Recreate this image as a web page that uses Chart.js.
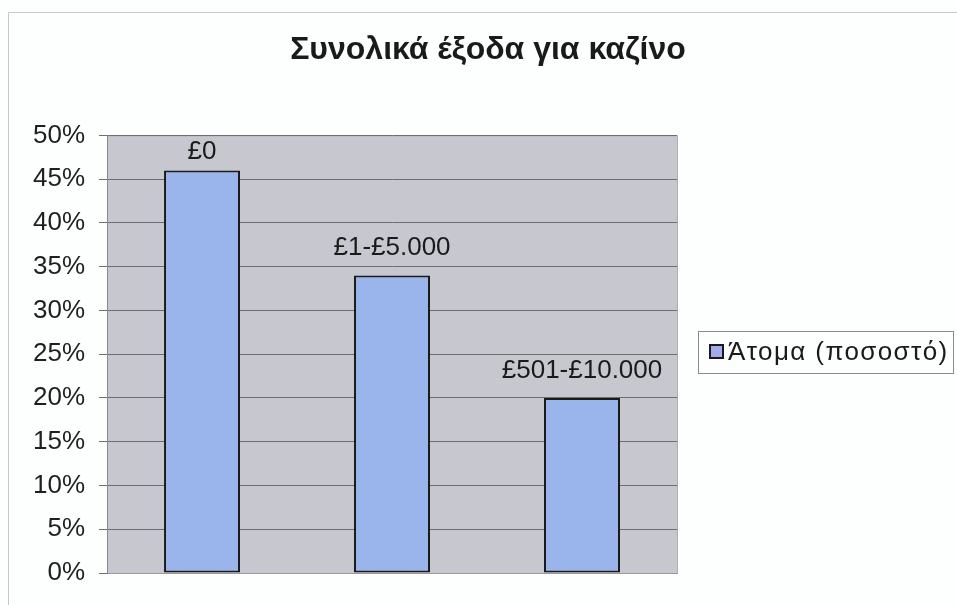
<!DOCTYPE html>
<html>
<head>
<meta charset="utf-8">
<script src="https://cdn.jsdelivr.net/npm/chart.js@4.4.0/dist/chart.umd.min.js"></script>
<style>
  html, body { margin: 0; padding: 0; background: #fdfefe; }
  #wrap { width: 957px; height: 605px; position: relative; }
</style>
</head>
<body>
<div id="wrap"><canvas id="myChart" width="957" height="605"></canvas></div>
<script>
// data
const categories = ['£0', '£1-£5.000', '£501-£10.000'];
const values = [46, 34, 20];
const seriesName = 'Άτομα (ποσοστό)';
const yTicks = [0, 5, 10, 15, 20, 25, 30, 35, 40, 45, 50];

const FONT = "'Liberation Sans', Arial, sans-serif";
const LEGEND_W = 280;   // room kept on the right for the legend
const ctx = document.getElementById('myChart');

// grey plot area + frame, like the old excel look
const plotBg = {
  id: 'plotBg',
  beforeDraw(chart) {
    const c = chart.ctx, a = chart.chartArea;
    c.save();
    c.fillStyle = '#c6c7cf';
    c.fillRect(a.left, a.top, a.right - a.left, a.bottom - a.top);
    c.strokeStyle = '#b0b0b4';
    c.lineWidth = 1;
    c.strokeRect(a.left + 0.5, a.top + 0.5, a.right - a.left, a.bottom - a.top);
    // outer frame of the scanned chart
    c.strokeStyle = '#c8c8c8';
    c.beginPath();
    c.moveTo(8.5, 605); c.lineTo(8.5, 12.5); c.lineTo(957, 12.5);
    c.stroke();
    c.restore();
  }
};

// legend drawn by hand, the built-in one is capped to 1/4 of the width
const boxLegend = {
  id: 'boxLegend',
  afterDraw(chart) {
    const c = chart.ctx, a = chart.chartArea;
    const ds = chart.data.datasets[0];
    const cy = Math.round((a.top + a.bottom) / 2) - 2;
    const x0 = a.right + 21;
    c.save();
    c.strokeStyle = '#8a8a8a';
    c.lineWidth = 1;
    c.strokeRect(x0 + 0.5, cy - 21 + 0.5, 255, 42);
    c.fillStyle = '#a3acea';
    c.fillRect(x0 + 12, cy - 7, 13, 13);
    c.strokeStyle = ds.borderColor;
    c.lineWidth = 2;
    c.strokeRect(x0 + 12, cy - 7, 13, 13);
    c.font = '26px ' + FONT;
    if ('letterSpacing' in c) c.letterSpacing = '1.4px';
    c.fillStyle = '#1a1a1a';
    c.textBaseline = 'middle';
    c.fillText(ds.label, x0 + 30, cy + 1);
    c.restore();
  }
};

// category names written over the bars
const barLabels = {
  id: 'barLabels',
  afterDatasetsDraw(chart) {
    const c = chart.ctx, a = chart.chartArea;
    const meta = chart.getDatasetMeta(0);
    c.save();
    c.font = '26px ' + FONT;
    c.fillStyle = '#1a1a1a';
    c.textAlign = 'center';
    c.textBaseline = 'alphabetic';
    meta.data.forEach((bar, i) => {
      const y = Math.max(bar.y - 20, a.top + 24);
      c.fillText(categories[i], bar.x, y);
    });
    c.restore();
  }
};

new Chart(ctx, {
  type: 'bar',
  data: {
    labels: categories,
    datasets: [{
      label: seriesName,
      data: values,
      backgroundColor: '#9ab4ec',
      borderColor: '#1a1a1a',
      borderWidth: 2,
      borderSkipped: false,
      barPercentage: 0.4,
      categoryPercentage: 1.0
    }]
  },
  options: {
    responsive: false,
    animation: false,
    layout: { padding: { left: 19, top: 10, right: 0, bottom: 24 } },
    plugins: {
      title: {
        display: true,
        text: 'Συνολικά έξοδα για καζίνο',
        color: '#1a1a1a',
        font: { family: FONT, size: 32, weight: 'bold' },
        padding: { top: 21, bottom: 66 }
      },
      legend: { display: false },
      tooltip: { enabled: false }
    },
    scales: {
      x: {
        ticks: { display: false },
        grid: { display: false },
        border: { color: '#9a9a9a' }
      },
      y: {
        min: 0,
        max: 50,
        afterBuildTicks(axis) { axis.ticks = yTicks.map(v => ({ value: v })); },
        ticks: {
          color: '#1f1f1f',
          padding: 14,
          font: { family: FONT, size: 26 },
          callback: v => v + '%'
        },
        grid: { color: '#6e6e6e', tickLength: 8, tickColor: '#6e6e6e' },
        border: { color: '#8a8a8a' }
      },
      // empty axis on the right only to keep space for the legend
      legendSpace: {
        type: 'linear',
        position: 'right',
        ticks: { display: false },
        grid: { display: false },
        border: { display: false },
        afterFit(axis) { axis.width = LEGEND_W; }
      }
    }
  },
  plugins: [plotBg, barLabels, boxLegend]
});
</script>
</body>
</html>
